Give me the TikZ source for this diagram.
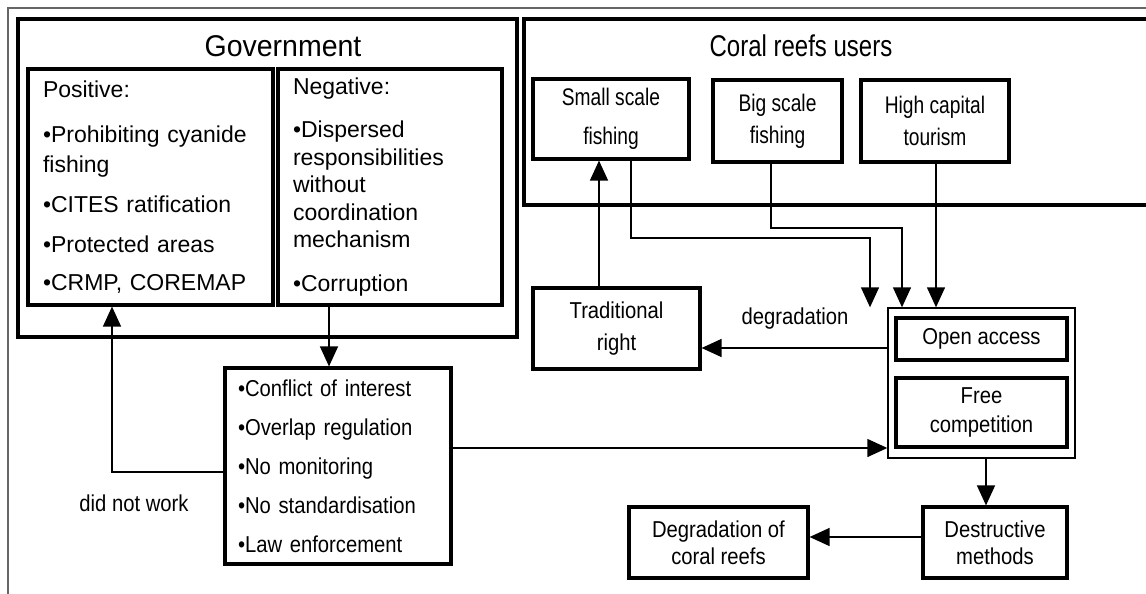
\documentclass[tikz,border=0pt]{standalone}
\usepackage{fontspec}
\setmainfont{Liberation Sans}
\newfontfamily\fontA{Liberation Sans}
\newfontfamily\fontB[FakeStretch=0.88]{Liberation Sans}
\newfontfamily\fontC[FakeStretch=0.80]{Liberation Sans}
\newfontfamily\fontD[FakeStretch=0.95]{Liberation Sans}
\newfontfamily\fontE[FakeStretch=0.80]{Liberation Sans}
\usetikzlibrary{arrows.meta}
\begin{document}
\begin{tikzpicture}[x=1pt,y=-1pt,
  bx/.style={draw, line width=3.2pt, inner sep=0pt},
  grpbox/.style={draw, line width=1.4pt, inner sep=0pt},
  arr/.style={line width=1.4pt, -{Triangle[width=18pt,length=20pt]}},
  lbl/.style={inner sep=0pt}]
\useasboundingbox (0,0) rectangle (1146,594);
% outer frame
\draw[line width=1.5pt, black!60] (8,600) -- (8,8) -- (1150,8);
% government
\node[bx, minimum width=499, minimum height=318] (gov) at (267.5,178) {};
\node[lbl, font={\fontD\fontsize{30}{34}\selectfont}] (govt) at (283,46) {Government};
\node[bx, minimum width=245, minimum height=236, text width=215, inner xsep=15, align=left,
  font={\fontA\fontsize{23}{30}\selectfont}] (pos) at (150.5,187)
  {Positive:\\[15pt]•Prohibiting cyanide\\fishing\\[10pt]•CITES ratification\\[10pt]•Protected areas\\[8pt]•CRMP, COREMAP};
\node[bx, minimum width=224, minimum height=236, text width=194, inner xsep=15, align=left,
  font={\fontA\fontsize{23}{27.5}\selectfont}] (neg) at (390,187)
  {Negative:\\[15.5pt]•Dispersed\\responsibilities\\without\\coordination\\mechanism\\[16pt]•Corruption};
% coral reef users
\draw[line width=3.2pt] (1150,19) -- (524,19) -- (524,205) -- (1150,205);
\node[lbl, font={\fontE\fontsize{30}{34}\selectfont}] (userst) at (801,46) {Coral reefs users};
\node[bx, minimum width=156, minimum height=80, align=center,
  font={\fontC\fontsize{24}{39}\selectfont}] (small) at (611,119) {Small scale\\fishing};
\node[bx, minimum width=129, minimum height=82, align=center,
  font={\fontC\fontsize{24}{32}\selectfont}] (big) at (777.5,121) {Big scale\\fishing};
\node[bx, minimum width=148, minimum height=82, align=center,
  font={\fontC\fontsize{24}{32}\selectfont}] (high) at (935,121) {High capital\\tourism};
% traditional right
\node[bx, minimum width=167, minimum height=81, align=center,
  font={\fontB\fontsize{23}{32}\selectfont}] (trad) at (616.5,328.5) {Traditional\\right};
% open access group
\node[grpbox, minimum width=187, minimum height=150] (grp) at (981.5,383) {};
\node[bx, minimum width=171, minimum height=42, align=center,
  font={\fontB\fontsize{23}{28}\selectfont}] (open) at (981.5,339) {Open access};
\node[bx, minimum width=171, minimum height=69, align=center,
  font={\fontB\fontsize{23}{29}\selectfont}] (free) at (981.5,412.5) {Free\\competition};
% conflict box
\node[bx, minimum width=226, minimum height=196, text width=200, inner xsep=13, align=left,
  font={\fontB\fontsize{23}{39}\selectfont}] (conf) at (338,466)
  {•Conflict of interest\\•Overlap regulation\\•No monitoring\\•No standardisation\\•Law enforcement};
% bottom boxes
\node[bx, minimum width=144, minimum height=71, align=center,
  font={\fontB\fontsize{23}{27}\selectfont}] (dest) at (995,542.5) {Destructive\\methods};
\node[bx, minimum width=179, minimum height=71, align=center,
  font={\fontB\fontsize{23}{27}\selectfont}] (degr) at (718.5,542.5) {Degradation of\\coral reefs};
% labels
\node[lbl, font={\fontB\fontsize{23}{28}\selectfont}] (degl) at (795,319) {degradation};
\node[lbl, font={\fontB\fontsize{23}{28}\selectfont}] (dnw) at (134,503) {did not work};
% connectors
\draw[arr] (trad.north -| 599,0) -- (small.south -| 599,0);
\draw[arr] (small.south -| 631,0) |- (870,238) -- (grp.north -| 870,0);
\draw[arr] (big.south -| 771,0) |- (902,228) -- (grp.north -| 902,0);
\draw[arr] (high.south -| 936,0) -- (grp.north -| 936,0);
\draw[arr] (grp.west |- 0,348) -- (trad.east |- 0,348);
\draw[arr] (neg.south -| 329,0) -- (conf.north -| 329,0);
\draw[arr] (conf.west |- 0,472) -| (pos.south -| 112,0);
\draw[arr] (conf.east |- 0,448) -- (grp.west |- 0,448);
\draw[arr] (grp.south -| 986,0) -- (dest.north -| 986,0);
\draw[arr] (dest.west |- 0,537) -- (degr.east |- 0,537);
\end{tikzpicture}
\end{document}
